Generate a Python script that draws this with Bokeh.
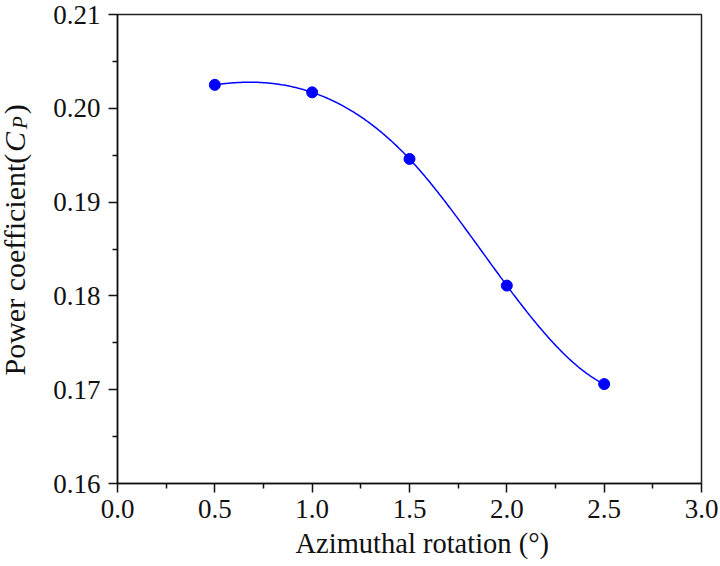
import numpy as np
from bokeh.plotting import figure
from bokeh.layouts import row
from bokeh.models import Label, FixedTicker, Range1d, Title
from bokeh.embed import file_html
from bokeh.resources import INLINE

# ---- data ----
rotation = [0.5, 1.0, 1.5, 2.0, 2.5]
cp = [0.2025, 0.2017, 0.1946, 0.1811, 0.1706]
x_ticks = [0.0, 0.5, 1.0, 1.5, 2.0, 2.5, 3.0]
y_ticks = [0.16, 0.17, 0.18, 0.19, 0.20, 0.21]
x_label = "Azimuthal rotation (°)"
y_label_parts = ["Power coefficient(", "C", "P", ")"]


def not_a_knot_spline(xs, ys, num=300):
    xs = np.asarray(xs, float)
    ys = np.asarray(ys, float)
    n = len(xs)
    h = np.diff(xs)
    A = np.zeros((n, n))
    b = np.zeros(n)
    for i in range(1, n - 1):
        A[i, i - 1] = h[i - 1]
        A[i, i] = 2 * (h[i - 1] + h[i])
        A[i, i + 1] = h[i]
        b[i] = 6 * ((ys[i + 1] - ys[i]) / h[i] - (ys[i] - ys[i - 1]) / h[i - 1])
    A[0, 0] = -1 / h[0]
    A[0, 1] = 1 / h[0] + 1 / h[1]
    A[0, 2] = -1 / h[1]
    A[n - 1, n - 3] = -1 / h[n - 3]
    A[n - 1, n - 2] = 1 / h[n - 3] + 1 / h[n - 2]
    A[n - 1, n - 1] = -1 / h[n - 2]
    M = np.linalg.solve(A, b)
    xx = np.linspace(xs[0], xs[-1], num)
    idx = np.clip(np.searchsorted(xs, xx) - 1, 0, n - 2)
    x0, x1 = xs[idx], xs[idx + 1]
    hh = x1 - x0
    a = (x1 - xx) / hh
    c = (xx - x0) / hh
    yy = (a * ys[idx] + c * ys[idx + 1]
          + ((a ** 3 - a) * M[idx] + (c ** 3 - c) * M[idx + 1]) * hh ** 2 / 6)
    return xx, yy


sx, sy = not_a_knot_spline(rotation, cp)

FONT = "Liberation Serif"
TXT = "#111111"
LEFT_W = 48
H = 566
FRAME_BOTTOM = 483  # canvas y of the frame's bottom edge

# ---- main plot ----
p = figure(width=720 - LEFT_W, height=H, output_backend="svg",
           toolbar_location=None,
           x_range=Range1d(0.0, 3.0), y_range=Range1d(0.16, 0.21),
           min_border_left=117 - LEFT_W, min_border_right=19,
           min_border_top=14, min_border_bottom=H - FRAME_BOTTOM)
p.background_fill_color = "white"
p.border_fill_color = "white"
p.grid.visible = False
p.outline_line_color = "#222222"
p.outline_line_width = 1.5

p.line(sx, sy, line_color="#0000ff", line_width=1.5)
p.scatter(rotation, cp, size=11, marker="circle", fill_color="#0000ff",
          line_color="#0000ff")

for ax in (p.xaxis[0], p.yaxis[0]):
    ax.axis_line_width = 1.5
    ax.axis_line_color = TXT
    ax.major_tick_line_width = 1.5
    ax.minor_tick_line_width = 1.5
    ax.major_tick_line_color = TXT
    ax.minor_tick_line_color = TXT
    ax.major_tick_out = 9
    ax.major_tick_in = 0
    ax.minor_tick_out = 5
    ax.minor_tick_in = 0
    ax.major_label_text_font = FONT
    ax.major_label_text_font_size = "27px"
    ax.major_label_text_color = TXT

p.xaxis[0].ticker = FixedTicker(ticks=x_ticks,
                                minor_ticks=[t + 0.25 for t in x_ticks[:-1]])
p.yaxis[0].ticker = FixedTicker(ticks=y_ticks,
                                minor_ticks=[round(t + 0.005, 3) for t in y_ticks[:-1]])
p.xaxis[0].major_label_overrides = {t: f"{t:.1f}" for t in x_ticks}
p.yaxis[0].major_label_overrides = {t: f"{t:.2f}" for t in y_ticks}
p.xaxis[0].major_label_standoff = 7
p.yaxis[0].major_label_standoff = 8

# x-axis label as a bottom title (so its position can be matched)
p.add_layout(Title(text=x_label, align="left", offset=178, standoff=11,
                   text_font=FONT, text_font_size="28.5px",
                   text_line_height=1.0,
                   text_font_style="normal", text_color=TXT), "below")

# ---- left strip with the y-axis label (italic C, italic subscript P) ----
lab = figure(width=LEFT_W, height=H, output_backend="svg",
             toolbar_location=None, x_range=Range1d(0, LEFT_W),
             y_range=Range1d(0, H), min_border=0)
lab.axis.visible = False
lab.grid.visible = False
lab.outline_line_color = None
lab.background_fill_color = "white"
lab.border_fill_color = "white"

fs = 30.0
sub_fs = 21.0
base_x = 14.0                 # baseline position (screen px)
y0 = FRAME_BOTTOM - 375.0     # text start, measured up from the frame bottom
w_main = 7.414 * fs
w_C = 0.667 * fs + 3
w_P = 0.611 * sub_fs + 2
specs = [
    (y0, base_x, fs, "normal"),
    (y0 + w_main + 1, base_x, fs, "italic"),
    (y0 + w_main + 1 + w_C, base_x + 5, sub_fs, "italic"),
    (y0 + w_main + 1 + w_C + w_P, base_x, fs, "normal"),
]
for txt, (yy, xx, size, style) in zip(y_label_parts, specs):
    lab.add_layout(Label(x=xx, y=yy, x_units="screen", y_units="screen",
                         text=txt, angle=np.pi / 2, text_font=FONT,
                         text_font_size=f"{size}px", text_font_style=style,
                         text_color=TXT, text_baseline="alphabetic",
                         text_align="left"))

layout = row(lab, p, spacing=0)
open("out.html", "w").write(file_html(layout, INLINE))
